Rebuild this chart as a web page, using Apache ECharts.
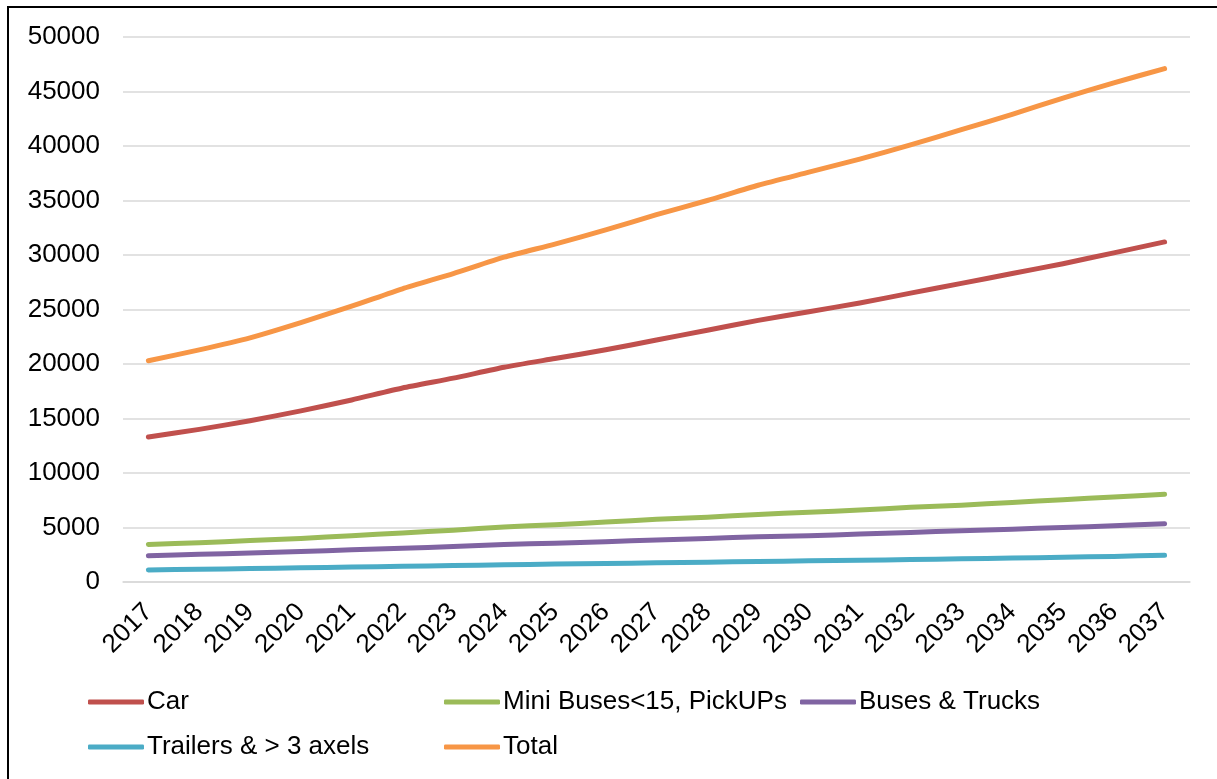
<!DOCTYPE html>
<html>
<head>
<meta charset="utf-8">
<script src="https://cdn.jsdelivr.net/npm/echarts@6/dist/echarts.min.js"></script>
<style>
  html, body { margin: 0; padding: 0; background: #fff; }
  #chart { width: 1217px; height: 779px; }
</style>
</head>
<body>
<div id="chart"></div>
<script>
// Vehicle fleet projection by class, 2017-2037
const years = ['2017','2018','2019','2020','2021','2022','2023','2024','2025','2026','2027',
               '2028','2029','2030','2031','2032','2033','2034','2035','2036','2037'];
const car      = [13300,14000,14800,15700,16700,17800,18700,19700,20500,21300,22200,
                  23100,24000,24800,25600,26500,27400,28300,29200,30200,31200];
const miniBus  = [3450,3600,3800,4000,4250,4500,4750,5050,5250,5500,5750,
                  5950,6200,6400,6600,6850,7050,7300,7550,7800,8050];
const busTruck = [2400,2550,2650,2800,2950,3100,3250,3450,3550,3700,3850,
                  4000,4150,4250,4400,4550,4700,4850,5000,5150,5350];
const trailers = [1100,1170,1230,1300,1370,1440,1510,1580,1640,1700,1760,
                  1820,1880,1940,2000,2060,2130,2200,2270,2350,2450];
const total    = [20300,21300,22400,23800,25300,26900,28300,29800,31000,32300,33700,
                  35000,36400,37600,38800,40100,41500,42900,44400,45800,47100];

const seriesDefs = [
  { name: 'Car', data: car, color: '#C0504D' },
  { name: 'Mini Buses<15, PickUPs', data: miniBus, color: '#9BBB59' },
  { name: 'Buses & Trucks', data: busTruck, color: '#8064A2' },
  { name: 'Trailers & > 3 axels', data: trailers, color: '#4BACC6' },
  { name: 'Total', data: total, color: '#F79646' }
];

const FONT = 'Liberation Sans, Arial, sans-serif';
const legendSlots = [
  { left: 88, top: 689 }, { left: 444, top: 689 }, { left: 800, top: 689 },
  { left: 88, top: 734 }, { left: 444, top: 734 }
];

const chart = echarts.init(document.getElementById('chart'));
chart.setOption({
  animation: false,
  backgroundColor: '#fff',
  graphic: [{
    type: 'rect', z: -1,
    shape: { x: 8, y: 7, width: 1400, height: 1000 },
    style: { fill: null, stroke: '#000', lineWidth: 2 }
  }],
  grid: { left: 123, right: 27, top: 37, bottom: 197 },
  legend: seriesDefs.map((s, i) => ({
    data: [s.name],
    left: legendSlots[i].left,
    top: legendSlots[i].top,
    icon: 'roundRect',
    itemWidth: 56,
    itemHeight: 5,
    padding: 0,
    textStyle: { fontFamily: FONT, fontSize: 26, color: '#000', padding: [0, 0, 0, -2] }
  })),
  xAxis: {
    type: 'category',
    data: years,
    boundaryGap: true,
    axisLine: { lineStyle: { color: '#D9D9D9', width: 1.5 } },
    axisTick: { show: false },
    axisLabel: {
      rotate: 45, interval: 0, margin: 26,
      fontFamily: FONT, fontSize: 26, color: '#000',
      padding: [22, 0, 0, 0]
    }
  },
  yAxis: {
    type: 'value',
    min: 0, max: 50000, interval: 5000,
    axisLine: { show: false },
    axisTick: { show: false },
    splitLine: { lineStyle: { color: '#D9D9D9', width: 1.5 } },
    axisLabel: {
      margin: 23, fontFamily: FONT, fontSize: 26, color: '#000',
      formatter: v => String(v)
    }
  },
  series: seriesDefs.map(s => ({
    name: s.name,
    type: 'line',
    data: s.data,
    smooth: 0.2,
    showSymbol: false,
    symbol: 'none',
    color: s.color,
    lineStyle: { width: 5, color: s.color, cap: 'round', join: 'round' }
  }))
});
</script>
</body>
</html>
